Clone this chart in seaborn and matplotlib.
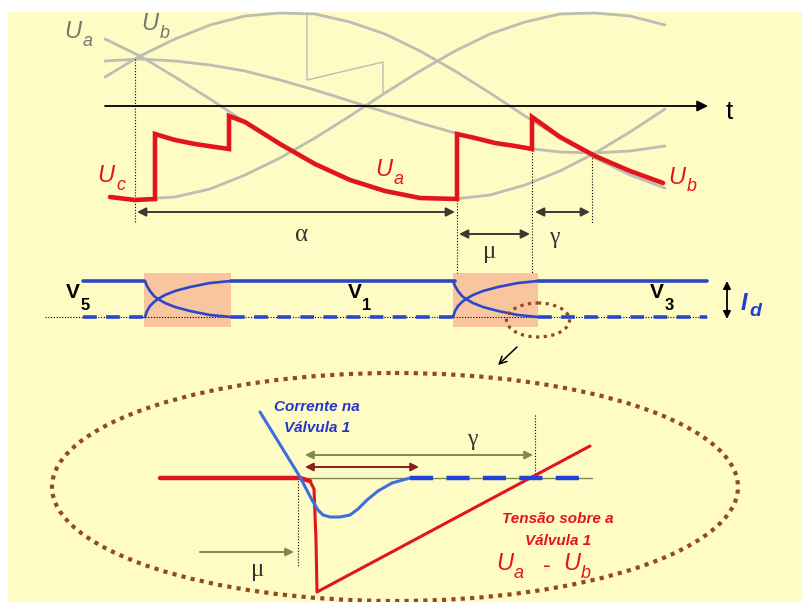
import numpy as np
import pandas as pd
import matplotlib.pyplot as plt
from matplotlib.patches import Rectangle, Ellipse
import seaborn as sns

sns.set_theme(style="white")
plt.rcParams['font.family'] = ['Liberation Sans', 'DejaVu Sans']

# --- values (pixel units, y grows downwards) ---
# phase voltages sampled along the time axis
t_grid = [105, 140, 175, 210, 245, 280, 315, 350, 385, 420, 455, 490, 525, 560, 595, 630, 665]
ua_gray = [39, 56, 77, 99, 122, 144, 164, 180, 191, 198, 199, 195, 185, 171, 153, 132, 109]
ub_gray = [77, 56, 39, 25, 16, 13, 14, 22, 34, 51, 71, 93, 116, 138, 158, 175, 188]
uc_gray = [197, 199, 197, 189, 175, 158, 138, 116, 93, 71, 51, 34, 22, 14, 13, 16, 25]
half_uc = [61, 59, 61, 65, 71, 80, 90, 101, 112, 123, 133, 142, 148, 152, 153, 151, 146]

saw_x = [307, 307, 383, 383]
saw_y = [13, 80, 62, 93]

# output voltage of the group (red)
out_x = [110, 135, 155, 155, 175, 195, 215, 229, 229, 245, 280, 315, 350, 385, 420, 457,
         457, 475, 495, 515, 532, 532, 560, 595, 630, 663]
out_y = [197, 200, 199, 134, 140, 144, 147, 149, 116, 122, 144, 164, 180, 191, 198, 199,
         134, 138, 143, 146, 149, 117, 137, 156, 171, 183]

# valve currents
cond_start = [83, 231, 538]
cond_end = [144, 455, 707]
comm_x1 = [145, 147, 150, 154, 158, 165, 175, 190, 210, 231]
comm_x2 = [453, 455, 458, 462, 466, 473, 483, 498, 518, 538]
fall_y = [281, 286, 291, 296, 299, 303, 307, 311, 315, 317]
rise_y = [317, 311, 306, 302, 299, 295, 291, 287, 283, 281]
i_high, i_low = 281, 317

# zoomed detail
v_det_x = [160, 300, 310, 314, 316, 317, 590]
v_det_y = [478, 478, 481, 489, 540, 592, 446]
i_det_x = [260, 300, 312, 318, 323, 330, 340, 350, 358, 367, 378, 392, 410]
i_det_y = [412, 477, 500, 510, 515, 517, 517, 515, 509, 500, 491, 483, 478]
det_base = 478

guide_x = [135, 457, 532, 592]
guide_top = [59, 200, 150, 152]
guide_bot = [223, 273, 273, 223]

bg = '#FEFBC4'
gray = '#BDBDB2'
red = '#E3151C'
blue = '#2A47C9'
blue_light = '#3D6EDD'
peach = '#F8C59E'
brown = '#934A20'
olive = '#7D8A4C'
darkred = '#8E1B1B'
lbl_gray = '#717A6B'

fig = plt.figure(figsize=(8.03, 6.02), dpi=100)
fig.patch.set_facecolor('white')
ax = fig.add_axes([0, 0, 1, 1])
ax.add_patch(Rectangle((8, 12), 795, 590, facecolor=bg, edgecolor='none', zorder=0))


def draw(x, y, color, lw, z=3, **kw):
    sns.lineplot(x=x, y=y, sort=False, estimator=None, color=color,
                 linewidth=lw, ax=ax, zorder=z, **kw)


# gray phase voltages
draw(t_grid, ua_gray, gray, 2.0, z=2)
draw(t_grid, ub_gray, gray, 2.0, z=2)
draw(t_grid[1:], uc_gray[1:], gray, 2.0, z=2)
draw(t_grid, half_uc, gray, 2.0, z=2)
draw(saw_x, saw_y, gray, 1.0, z=2)

# time axis
ax.annotate('', xy=(708, 106), xytext=(105, 106),
            arrowprops=dict(arrowstyle='-|>', color='black', lw=1.3,
                            mutation_scale=16, shrinkA=0, shrinkB=0), zorder=4)
ax.text(729, 112, 't', fontsize=19, ha='center', va='center', color='black')

# red output voltage
draw(out_x, out_y, red, 3.3, z=5, solid_joinstyle='miter')

# guide lines
ax.vlines(guide_x, guide_top, guide_bot, colors='black', lw=0.8,
          linestyles=(0, (1, 1.6)), zorder=3)

# interval arrows
arr = dict(arrowstyle='<|-|>', color='#3a3a30', lw=1.4, mutation_scale=13,
           shrinkA=0, shrinkB=0)
ax.annotate('', xy=(137, 212), xytext=(455, 212), arrowprops=arr)
ax.annotate('', xy=(459, 234), xytext=(530, 234), arrowprops=arr)
ax.annotate('', xy=(535, 212), xytext=(590, 212), arrowprops=arr)
ax.text(302, 235, 'α', fontsize=18, family='Liberation Serif', ha='center', va='center', color='#333')
ax.text(490, 252, 'μ', fontsize=18, family='Liberation Serif', ha='center', va='center', color='#333')
ax.text(554, 237, 'γ', fontsize=17, family='Liberation Serif', ha='center', va='center', color='#333')

# voltage labels
def ulabel(x, y, sub, color, fs=17):
    ax.text(x, y, 'U', fontsize=fs, style='italic', ha='center', va='center', color=color, zorder=6)
    ax.text(x + fs * 0.85, y + fs * 0.55, sub, fontsize=fs * 0.76, style='italic',
            ha='center', va='center', color=color, zorder=6)

ulabel(73, 32, 'a', lbl_gray)
ulabel(150, 24, 'b', lbl_gray)
ulabel(106, 176, 'c', red)
ulabel(384, 170, 'a', red)
ulabel(677, 177, 'b', red)

# valve current strip
for x0, x1 in [(144, 231), (453, 538)]:
    ax.add_patch(Rectangle((x0, 273), x1 - x0, 54, facecolor=peach, edgecolor='none', zorder=1))
ax.hlines(i_low, 45, 707, colors='black', lw=0.8, linestyles=(0, (1, 1.5)), zorder=2)
for x0, x1 in zip(cond_start, cond_end):
    draw([x0, x1], [i_high, i_high], blue, 2.6)
    draw([x0, x1], [i_low, i_low], blue, 2.6, linestyle=(0, (3.8, 2.6)))
for cx in [comm_x1, comm_x2]:
    draw(cx, fall_y, blue, 1.9)
    draw(cx, rise_y, blue, 1.9)

def vlabel(x, y, sub):
    ax.text(x, y, 'V', fontsize=15, weight='bold', ha='center', va='center', color='black')
    ax.text(x + 12, y + 13, sub, fontsize=12, weight='bold', ha='center', va='center', color='black')

vlabel(73, 292, '5')
vlabel(355, 292, '1')
vlabel(657, 292, '3')

ax.annotate('', xy=(727, 281), xytext=(727, 319),
            arrowprops=dict(arrowstyle='<|-|>', color='black', lw=1.3, mutation_scale=11,
                            shrinkA=0, shrinkB=0))
ax.text(744, 303, 'I', fontsize=17, weight='bold', style='italic', ha='center', va='center', color='#1f3fd0')
ax.text(755, 312, 'd', fontsize=14, weight='bold', style='italic', ha='center', va='center', color='#1f3fd0')

# zoom marker
ax.add_patch(Ellipse((538, 320), 63, 34, fill=False, edgecolor=brown, lw=2.3,
                     linestyle=(0, (1, 1.4)), zorder=4))
ax.annotate('', xy=(498, 365), xytext=(517, 347),
            arrowprops=dict(arrowstyle='->', color='black', lw=1.1, mutation_scale=13,
                            shrinkA=0, shrinkB=0))
ax.add_patch(Ellipse((395, 487), 686, 228, fill=False, edgecolor=brown, lw=3.0,
                     linestyle=(0, (1, 1.25)), zorder=4))

# detail of the current extinction
draw([300, 592], [det_base, det_base], olive, 1.0, z=2)
draw(v_det_x, v_det_y, red, 2.2, z=4)
draw(v_det_x[:3], v_det_y[:3], red, 3.2, z=4)
draw(i_det_x, i_det_y, blue_light, 2.2, z=5)
draw([410, 592], [det_base, det_base], '#2142D6', 3.2, z=5, linestyle=(0, (5.2, 3.0)))

ax.vlines([298], [478], [567], colors='black', lw=0.8, linestyles=(0, (1, 1.6)), zorder=3)
ax.vlines([535], [415], [478], colors='black', lw=0.8, linestyles=(0, (1, 1.6)), zorder=3)

ax.annotate('', xy=(305, 455), xytext=(533, 455),
            arrowprops=dict(arrowstyle='<|-|>', color=olive, lw=1.4, mutation_scale=12,
                            shrinkA=0, shrinkB=0))
ax.annotate('', xy=(305, 467), xytext=(419, 467),
            arrowprops=dict(arrowstyle='<|-|>', color=darkred, lw=1.4, mutation_scale=12,
                            shrinkA=0, shrinkB=0))
ax.annotate('', xy=(294, 552), xytext=(200, 552),
            arrowprops=dict(arrowstyle='-|>', color=olive, lw=1.4, mutation_scale=12,
                            shrinkA=0, shrinkB=0))
ax.text(472, 439, 'γ', fontsize=17, family='Liberation Serif', ha='center', va='center', color='#333')
ax.text(258, 570, 'μ', fontsize=18, family='Liberation Serif', ha='center', va='center', color='#333')

narrow = ['Liberation Sans Narrow', 'Liberation Sans', 'DejaVu Sans']
ax.text(317, 407, 'Corrente na', fontsize=11, weight='bold', style='italic',
        family=narrow, ha='center', va='center', color='#2537C8')
ax.text(317, 428, 'Válvula 1', fontsize=11, weight='bold', style='italic',
        family=narrow, ha='center', va='center', color='#2537C8')
ax.text(558, 519, 'Tensão sobre a', fontsize=11, weight='bold', style='italic',
        family=narrow, ha='center', va='center', color=red)
ax.text(558, 541, 'Válvula 1', fontsize=11, weight='bold', style='italic',
        family=narrow, ha='center', va='center', color=red)

for x, sub in [(505, 'a'), (572, 'b')]:
    ax.text(x, 563, 'U', fontsize=17, style='italic', family=narrow, ha='center',
            va='center', color=red)
    ax.text(x + 14, 573, sub, fontsize=13, style='italic', family=narrow, ha='center',
            va='center', color=red)
ax.text(547, 566, '-', fontsize=17, family=narrow, ha='center', va='center', color=red)

ax.set_xlim(0, 803)
ax.set_ylim(602, 0)
ax.axis('off')
fig.savefig('out.png', dpi=100, facecolor='white')
